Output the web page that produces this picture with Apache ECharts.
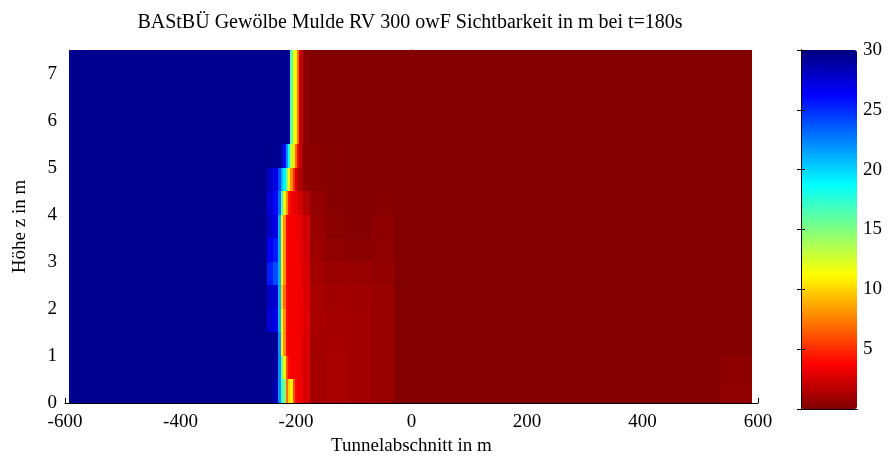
<!DOCTYPE html>
<html>
<head>
<meta charset="utf-8">
<script src="https://cdn.jsdelivr.net/npm/echarts@6/dist/echarts.min.js"></script>
<style>
  html, body { margin: 0; padding: 0; background: #fff; }
  #chart { width: 888px; height: 461px; }
</style>
</head>
<body>
<div id="chart"></div>
<script>
// cell edges along the tunnel (m) and over the height (m)
var xEdges = [-593, -250, -240, -232, -226, -222, -218, -214, -210, -206, -202, -198, -194, -188, -175, -150, -110, -70, -30, 100, 300, 535, 590];
var zEdges = [0, 0.5, 1, 1.5, 2, 2.5, 3, 3.5, 4, 4.5, 5, 5.5, 6, 6.5, 7, 7.5];

// Sichtbarkeit in m, one row per height band, bottom to top
var visibility = [
  [29.6, 29.6, 28.5, 22, 17, 15, 7, 10, 11, 6, 4, 3.5, 3.3, 2.5, 1.1, 1.2, 1.0, 0.7, 0.05, 0.05, 0.1, 0.5],
  [29.6, 29.6, 29, 22, 16, 11, 6, 4, 3.5, 3.5, 3.5, 3.5, 3.2, 2.5, 1.1, 1.2, 1.0, 0.7, 0.05, 0.05, 0.1, 0.4],
  [29.6, 29.6, 29.3, 22, 11, 8, 4, 3.5, 3.5, 3.5, 3.5, 3.5, 3.2, 2.6, 1.1, 1.15, 1.0, 0.7, 0.05, 0.05, 0.05, 0.1],
  [29.6, 27.5, 27, 21, 11, 8, 4, 3.5, 3.5, 3.5, 3.5, 3.5, 3.3, 2.8, 1.2, 1.1, 1.0, 0.7, 0.05, 0.05, 0.05, 0.05],
  [29.6, 28, 27.5, 21, 10, 7, 4, 3.5, 3.5, 3.5, 3.5, 3.5, 3.3, 2.7, 1.2, 1.0, 0.95, 0.7, 0.05, 0.05, 0.05, 0.05],
  [29.6, 25.5, 24, 21, 11, 8, 4, 3.5, 3.5, 3.5, 3.5, 3.5, 3.2, 2.6, 1.0, 0.8, 0.7, 0.6, 0.05, 0.05, 0.05, 0.05],
  [29.6, 26.5, 25.5, 21, 11, 8, 4, 3.5, 3.5, 3.5, 3.5, 3.4, 3.1, 2.5, 0.9, 0.5, 0.3, 0.5, 0.05, 0.05, 0.05, 0.05],
  [29.6, 28, 27, 21, 11, 8, 4, 3.5, 3.5, 3.5, 3.4, 3.3, 3.0, 2.3, 0.8, 0.3, 0.15, 0.4, 0.05, 0.05, 0.05, 0.05],
  [29.6, 27.5, 26, 23, 17, 11, 8, 4.5, 3.5, 3.2, 3.0, 2.8, 2.4, 1.5, 0.6, 0.2, 0.1, 0.2, 0.05, 0.05, 0.05, 0.05],
  [29.6, 28, 27, 24, 21, 19, 15, 11, 8, 5, 2.5, 1.8, 1.2, 0.5, 0.3, 0.2, 0.1, 0.1, 0.05, 0.05, 0.05, 0.05],
  [29.6, 29.6, 29.6, 29.6, 28.5, 26, 22, 18, 13, 10.5, 7, 4, 1.5, 0.5, 0.3, 0.2, 0.1, 0.1, 0.05, 0.05, 0.05, 0.05],
  [29.6, 29.6, 29.6, 29.6, 29.6, 29.6, 29.6, 29, 16, 11.5, 11, 7, 2, 0.3, 0.1, 0.1, 0.05, 0.05, 0.05, 0.05, 0.05, 0.05],
  [29.6, 29.6, 29.6, 29.6, 29.6, 29.6, 29.6, 29, 16, 11.5, 11, 7, 2, 0.3, 0.1, 0.1, 0.05, 0.05, 0.05, 0.05, 0.05, 0.05],
  [29.6, 29.6, 29.6, 29.6, 29.6, 29.6, 29.6, 29, 16, 11.5, 11, 7, 2, 0.3, 0.1, 0.1, 0.05, 0.05, 0.05, 0.05, 0.05, 0.05],
  [29.6, 29.6, 29.6, 29.6, 29.6, 29.6, 29.6, 29, 16, 11.5, 11, 7, 2, 0.3, 0.1, 0.1, 0.05, 0.05, 0.05, 0.05, 0.05, 0.05]
];

var colorbarTicks = [5, 10, 15, 20, 25, 30];
var jet = ['#800000', '#ff0000', '#ff8000', '#ffff00', '#80ff80', '#00ffff', '#0080ff', '#0000ff', '#000080'];

var cells = [];
for (var j = 0; j < visibility.length; j++) {
  for (var i = 0; i < visibility[j].length; i++) {
    cells.push([xEdges[i], xEdges[i + 1], zEdges[j], zEdges[j + 1], visibility[j][i]]);
  }
}

var font = 'Liberation Serif';
var chart = echarts.init(document.getElementById('chart'));

var option = {
  animation: false,
  textStyle: { fontFamily: font, color: '#000' },
  title: {
    text: 'BAStBÜ Gewölbe Mulde RV 300 owF Sichtbarkeit in m bei t=180s',
    left: 405, top: 8, textAlign: 'center',
    textStyle: { fontFamily: font, fontSize: 20, fontWeight: 'normal', color: '#000' }
  },
  grid: [
    { left: 65, top: 50, width: 693, height: 359 },
    { left: 801, top: 50, width: 56, height: 359 }
  ],
  visualMap: {
    type: 'continuous', min: 0, max: 30, dimension: 4, seriesIndex: 0,
    inRange: { color: jet },
    left: 801, top: 50, itemWidth: 56, itemHeight: 359, padding: 0,
    calculable: false, hoverLink: false
  },
  xAxis: [
    {
      type: 'value', gridIndex: 0, min: -600, max: 600, interval: 200,
      axisLine: { lineStyle: { color: '#000', width: 1 } },
      axisTick: { inside: true, length: 5, lineStyle: { color: '#000' } },
      axisLabel: { fontSize: 19, color: '#000', margin: 10, fontFamily: font },
      splitLine: { show: false },
      name: 'Tunnelabschnitt in m', nameLocation: 'middle', nameGap: 34,
      nameTextStyle: { fontSize: 19, color: '#000', fontFamily: font }
    },
    {
      type: 'value', gridIndex: 1, min: 0, max: 1, position: 'bottom', z: 10,
      axisLine: { lineStyle: { color: '#000' } },
      axisTick: { show: false }, axisLabel: { show: false }, splitLine: { show: false }
    },
    {
      type: 'value', gridIndex: 1, min: 0, max: 1, position: 'top', z: 10,
      axisLine: { lineStyle: { color: '#000' } },
      axisTick: { show: false }, axisLabel: { show: false }, splitLine: { show: false }
    }
  ],
  yAxis: [
    {
      type: 'value', gridIndex: 0, min: 0, max: 7.5, interval: 1,
      axisLine: { lineStyle: { color: '#000', width: 1 } },
      axisTick: { inside: true, length: 5, lineStyle: { color: '#000' } },
      axisLabel: { fontSize: 19, color: '#000', margin: 8, showMaxLabel: false, fontFamily: font },
      splitLine: { show: false },
      name: 'Höhe z in m', nameLocation: 'middle', nameGap: 35,
      nameTextStyle: { fontSize: 19, color: '#000', fontFamily: font }
    },
    {
      type: 'value', gridIndex: 1, min: 0, max: 30, interval: 5, position: 'right', z: 10,
      axisLine: { lineStyle: { color: '#000' } },
      axisTick: { inside: true, length: 4, lineStyle: { color: '#000' } },
      axisLabel: {
        fontSize: 19, color: '#000', margin: 6, fontFamily: font,
        formatter: function (v) { return colorbarTicks.indexOf(v) >= 0 ? String(v) : ''; }
      },
      splitLine: { show: false }
    },
    {
      type: 'value', gridIndex: 1, min: 0, max: 30, interval: 5, position: 'left', z: 10,
      axisLine: { lineStyle: { color: '#000' } },
      axisTick: { inside: true, length: 4, lineStyle: { color: '#000' } },
      axisLabel: { show: false }, splitLine: { show: false }
    }
  ],
  series: [{
    type: 'custom',
    xAxisIndex: 0, yAxisIndex: 0,
    silent: true,
    encode: { x: [0, 1], y: [2, 3] },
    data: cells,
    renderItem: function (params, api) {
      // snap to whole pixels so neighbouring cells meet without seams
      var p0 = api.coord([api.value(0), api.value(3)]);
      var p1 = api.coord([api.value(1), api.value(2)]);
      var x0 = Math.round(p0[0]), y0 = Math.round(p0[1]);
      var x1 = Math.round(p1[0]), y1 = Math.round(p1[1]);
      return {
        type: 'rect',
        shape: { x: x0, y: y0, width: x1 - x0, height: y1 - y0 },
        style: { fill: api.visual('color') }
      };
    }
  }]
};
chart.setOption(option);
</script>
</body>
</html>
